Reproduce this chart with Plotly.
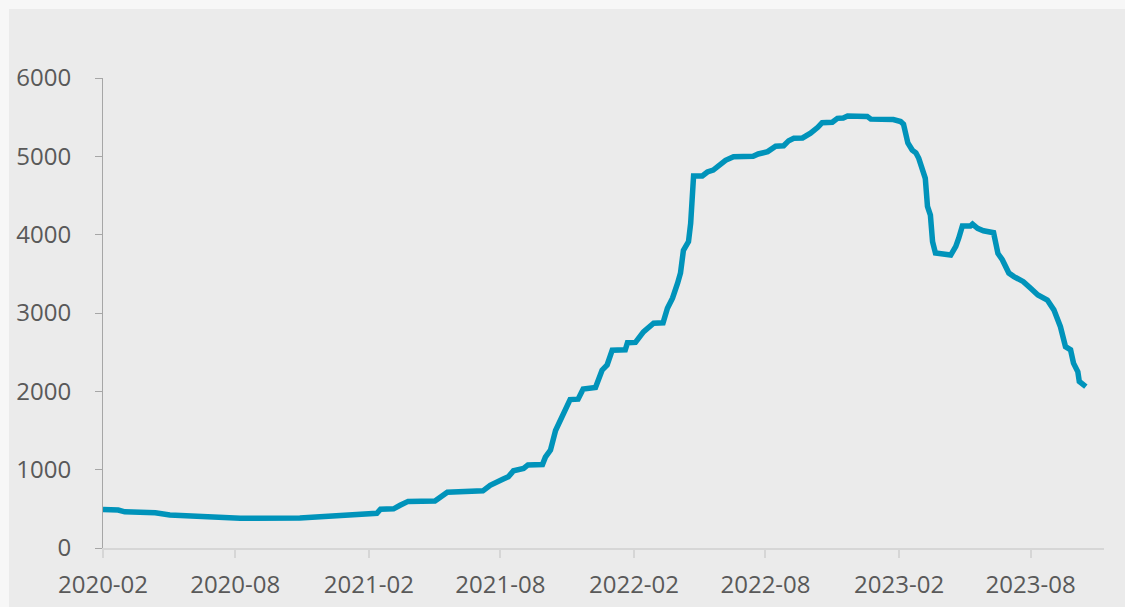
"""Line chart: value over time, 2020-02 to 2023-10."""

import plotly.graph_objects as go

DATES = [
    "2020-02-01", "2020-02-22", "2020-03-02", "2020-04-06", "2020-04-13",
    "2020-05-03", "2020-05-31", "2020-06-14", "2020-07-11", "2020-08-08",
    "2020-10-29", "2020-11-19", "2020-12-10", "2021-01-06", "2021-02-12",
    "2021-02-17", "2021-03-07", "2021-03-16", "2021-03-27", "2021-05-03",
    "2021-05-10", "2021-05-20", "2021-07-08", "2021-07-18", "2021-08-05",
    "2021-08-12", "2021-08-19", "2021-09-02", "2021-09-08", "2021-09-28",
    "2021-10-02", "2021-10-09", "2021-10-16", "2021-10-23", "2021-10-29",
    "2021-11-05", "2021-11-16", "2021-11-23", "2021-12-10", "2021-12-14",
    "2021-12-19", "2021-12-26", "2022-01-02", "2022-01-20", "2022-01-23",
    "2022-02-03", "2022-02-14", "2022-02-28", "2022-03-13", "2022-03-19",
    "2022-03-26", "2022-04-02", "2022-04-06", "2022-04-10", "2022-04-17",
    "2022-04-20", "2022-04-22", "2022-04-24", "2022-05-06", "2022-05-13",
    "2022-05-21", "2022-05-28", "2022-06-07", "2022-06-18", "2022-07-15",
    "2022-07-22", "2022-08-04", "2022-08-15", "2022-08-26", "2022-09-02",
    "2022-09-09", "2022-09-21", "2022-10-02", "2022-10-12", "2022-10-18",
    "2022-11-01", "2022-11-08", "2022-11-16", "2022-11-22", "2022-12-19",
    "2022-12-24", "2023-01-24", "2023-02-03", "2023-02-07", "2023-02-13",
    "2023-02-19", "2023-02-24", "2023-02-28", "2023-03-05", "2023-03-09",
    "2023-03-12", "2023-03-16", "2023-03-19", "2023-03-23", "2023-04-13",
    "2023-04-20", "2023-04-24", "2023-04-29", "2023-05-10", "2023-05-13",
    "2023-05-20", "2023-05-28", "2023-06-11", "2023-06-17", "2023-06-23",
    "2023-07-02", "2023-07-09", "2023-07-22", "2023-08-01", "2023-08-11",
    "2023-08-24", "2023-09-02", "2023-09-11", "2023-09-18", "2023-09-25",
    "2023-09-29", "2023-10-05", "2023-10-07", "2023-10-16",
]
VALUES = [
    490, 485, 462, 455, 450,
    421, 412, 400, 385, 380,
    382, 395, 408, 432, 443,
    495, 500, 545, 595, 600,
    640, 711, 730, 800, 880,
    910, 985, 1015, 1060, 1065,
    1160, 1250, 1500, 1640, 1770,
    1895, 1900, 2030, 2050, 2145,
    2270, 2336, 2525, 2530, 2620,
    2625, 2760, 2870, 2875, 3060,
    3190, 3380, 3510, 3800, 3910,
    4145, 4530, 4750, 4750, 4800,
    4825, 4875, 4950, 4995, 5000,
    5030, 5060, 5130, 5135, 5200,
    5230, 5235, 5295, 5370, 5430,
    5435, 5485, 5490, 5515, 5510,
    5475, 5470, 5445, 5410, 5170,
    5080, 5045, 4975, 4850, 4720,
    4360, 4250, 3910, 3765, 3740,
    3850, 3955, 4110, 4110, 4135,
    4080, 4050, 4025, 3760, 3680,
    3510, 3465, 3400, 3315, 3230,
    3165, 3040, 2825, 2570, 2530,
    2360, 2250, 2125, 2060,
]

X_TICKS = ["2020-02-01", "2020-08-01", "2021-02-01", "2021-08-01",
           "2022-02-01", "2022-08-01", "2023-02-01", "2023-08-01"]
X_TICK_LABELS = ["2020-02", "2020-08", "2021-02", "2021-08",
                 "2022-02", "2022-08", "2023-02", "2023-08"]
Y_TICKS = [0, 1000, 2000, 3000, 4000, 5000, 6000]

LINE_COLOR = "#0093ba"
PANEL = "#ebebeb"
FRAME = "#f7f7f7"
TEXT = "#595959"

fig = go.Figure()
fig.add_trace(
    go.Scatter(
        x=DATES,
        y=VALUES,
        mode="lines",
        line=dict(color=LINE_COLOR, width=5.5),
        hoverinfo="x+y",
        showlegend=False,
    )
)

fig.update_layout(
    width=1116,
    height=598,
    margin=dict(l=94, r=21, t=69, b=59),
    paper_bgcolor=PANEL,
    plot_bgcolor=PANEL,
    font=dict(family="Open Sans, Noto Sans, sans-serif", size=24, color=TEXT),
    xaxis=dict(
        type="date",
        range=["2020-02-01", "2023-11-10"],
        tickvals=X_TICKS,
        ticktext=X_TICK_LABELS,
        showgrid=False,
        zeroline=False,
        showline=True,
        linecolor="#d6d6d6",
        linewidth=2,
        ticks="outside",
        ticklen=8,
        tickwidth=2,
        tickcolor="#d6d6d6",
        ticklabelstandoff=6,
        automargin=False,
    ),
    yaxis=dict(
        range=[0, 6000],
        tickvals=Y_TICKS,
        showgrid=False,
        zeroline=False,
        showline=True,
        linecolor="#a6a6a6",
        linewidth=1,
        ticks="outside",
        ticklen=7,
        tickcolor="#a6a6a6",
        ticklabelstandoff=19,
        automargin=False,
    ),
)

# the chart sits in a light frame, 9px on top and left
page_style = (
    "document.body.style.margin='9px 0 0 9px';"
    f"document.body.style.background='{FRAME}';"
    "document.body.style.overflow='hidden';"
)
fig.write_html("out.html", post_script=page_style)
